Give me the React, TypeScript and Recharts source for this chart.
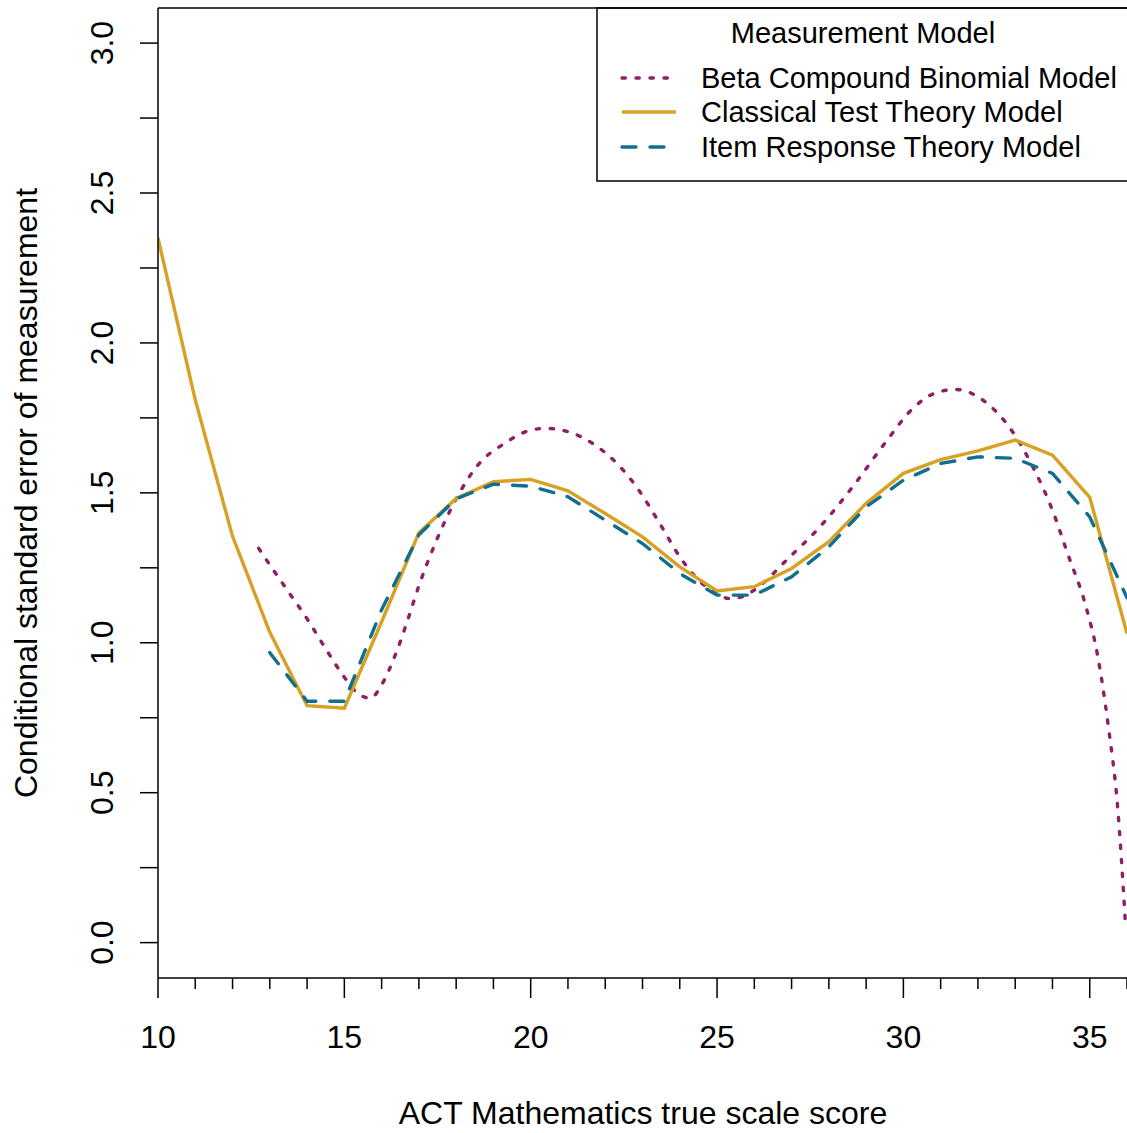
import React from "react";
import { LineChart, Line, XAxis, YAxis } from "recharts";

// ACT Mathematics true scale score (x) vs conditional SEM (y)
const scoreTicks = [10, 11, 12, 13, 14, 15, 16, 17, 18, 19, 20, 21, 22, 23, 24, 25, 26, 27, 28, 29, 30, 31, 32, 33, 34, 35, 36];
const semTicks = [0, 0.25, 0.5, 0.75, 1, 1.25, 1.5, 1.75, 2, 2.25, 2.5, 2.75, 3];

// Classical Test Theory Model
const cttScores = [10, 11, 12, 13, 14, 15, 16, 17, 18, 19, 20, 21, 22, 23, 24, 25, 26, 27, 28, 29, 30, 31, 32, 33, 34, 35, 36];
const cttValues = [2.35, 1.81, 1.355, 1.035, 0.79, 0.782, 1.07, 1.367, 1.481, 1.537, 1.545, 1.507, 1.431, 1.353, 1.253, 1.173, 1.187, 1.248, 1.337, 1.465, 1.565, 1.611, 1.64, 1.676, 1.626, 1.485, 1.031];

// Item Response Theory Model
const irtScores = [13, 14, 15, 16, 17, 18, 19, 20, 21, 22, 23, 24, 25, 26, 27, 28, 29, 30, 31, 32, 33, 34, 35, 36];
const irtValues = [0.967, 0.805, 0.805, 1.11, 1.36, 1.48, 1.529, 1.522, 1.487, 1.409, 1.331, 1.231, 1.159, 1.159, 1.22, 1.32, 1.453, 1.542, 1.598, 1.62, 1.615, 1.565, 1.42, 1.15];

// Beta Compound Binomial Model (smooth curve)
const bcbScores = [12.7, 13, 13.5, 14, 14.5, 15, 15.3, 15.7, 16, 16.4, 16.7, 17, 17.4, 18, 18.6, 19.3, 20, 20.4, 21.1, 21.8, 22.4, 22.9, 23.5, 24, 24.5, 25, 25.3, 25.6, 26, 26.9, 27.8, 28.7, 29.5, 30.3, 30.8, 31.4, 32.2, 32.9, 33.5, 34, 34.4, 34.9, 35.2, 35.5, 35.75, 35.95];
const bcbValues = [1.315, 1.26, 1.17, 1.08, 0.98, 0.885, 0.838, 0.815, 0.86, 0.97, 1.076, 1.19, 1.32, 1.48, 1.595, 1.665, 1.709, 1.715, 1.7, 1.653, 1.587, 1.509, 1.39, 1.287, 1.209, 1.165, 1.148, 1.151, 1.176, 1.28, 1.392, 1.53, 1.665, 1.787, 1.83, 1.845, 1.803, 1.709, 1.58, 1.442, 1.3, 1.12, 0.965, 0.72, 0.45, 0.08];

const seriesNames = ["Beta Compound Binomial Model", "Classical Test Theory Model", "Item Response Theory Model"];

const PURPLE = "#8e1f66";
const GOLD = "#d8a024";
const TEAL = "#0e6f8f";
const FONT = '"Liberation Sans", Arial, Helvetica, sans-serif';

const toPoints = (xs: number[], ys: number[]) => xs.map((x, i) => ({ score: x, sem: ys[i] }));

const cttData = toPoints(cttScores, cttValues);
const irtData = toPoints(irtScores, irtValues);
const bcbData = toPoints(bcbScores, bcbValues);

function XTick(props: any) {
  const { x, y, payload } = props;
  const major = payload.value % 5 === 0;
  return (
    <g>
      <line x1={x} x2={x} y1={y} y2={y + (major ? 20 : 11)} stroke="#000" strokeWidth={1.5} />
      {major && (
        <text x={x} y={y + 70} textAnchor="middle" fontSize={32} fontFamily={FONT} fill="#000">
          {payload.value}
        </text>
      )}
    </g>
  );
}

function YTick(props: any) {
  const { x, y, payload } = props;
  const v = payload.value;
  const labeled = Math.abs(v * 2 - Math.round(v * 2)) < 1e-6;
  return (
    <g>
      <line x1={x - 18} x2={x} y1={y} y2={y} stroke="#000" strokeWidth={1.5} />
      {labeled && (
        <text
          transform={`translate(${x - 45}, ${y}) rotate(-90)`}
          textAnchor="middle"
          fontSize={32}
          fontFamily={FONT}
          fill="#000"
        >
          {v.toFixed(1)}
        </text>
      )}
    </g>
  );
}

function Overlay() {
  const rows = [
    { name: seriesNames[0], color: PURPLE, dash: "3.3 10.7", y: 78 },
    { name: seriesNames[1], color: GOLD, dash: undefined, y: 112 },
    { name: seriesNames[2], color: TEAL, dash: "14 14", y: 147 },
  ];
  return (
    <svg width={1127} height={1133} style={{ position: "absolute", left: 0, top: 0, pointerEvents: "none" }}>
      {/* top of plot box */}
      <line x1={158} x2={1127} y1={8} y2={8} stroke="#000" strokeWidth={1.5} />
      {/* legend box, right side runs off the page */}
      <polyline points="1130,8 597,8 597,181 1130,181" fill="none" stroke="#000" strokeWidth={1.5} />
      <text x={863} y={43} textAnchor="middle" fontSize={29} fontFamily={FONT} fill="#000">
        Measurement Model
      </text>
      {rows.map((r) => (
        <g key={r.name}>
          <line
            x1={622}
            x2={676}
            y1={r.y}
            y2={r.y}
            stroke={r.color}
            strokeWidth={3.4}
            strokeDasharray={r.dash}
            strokeLinecap={r.dash ? "round" : "butt"}
          />
          <text x={701} y={r.y + 10} fontSize={29} fontFamily={FONT} fill="#000">
            {r.name}
          </text>
        </g>
      ))}
      <text x={643} y={1124} textAnchor="middle" fontSize={32} fontFamily={FONT} fill="#000">
        ACT Mathematics true scale score
      </text>
      <text
        transform="translate(37, 493) rotate(-90)"
        textAnchor="middle"
        fontSize={32}
        fontFamily={FONT}
        fill="#000"
      >
        Conditional standard error of measurement
      </text>
    </svg>
  );
}

export default function App() {
  return (
    <div style={{ position: "absolute", left: 0, top: 0, width: 1127, height: 1133, background: "#fff", overflow: "hidden" }}>
      <LineChart width={1127} height={1133} margin={{ top: 8, right: 0, bottom: 0, left: 0 }}>
        <XAxis
          dataKey="score"
          type="number"
          domain={[10, 36]}
          ticks={scoreTicks}
          allowDataOverflow
          height={155}
          tickSize={0}
          tickMargin={0}
          tickLine={false}
          axisLine={{ stroke: "#000", strokeWidth: 1.5 }}
          tick={<XTick />}
          interval={0}
        />
        <YAxis
          type="number"
          domain={[-0.118, 3.117]}
          ticks={semTicks}
          allowDataOverflow
          width={158}
          tickSize={0}
          tickMargin={0}
          tickLine={false}
          axisLine={{ stroke: "#000", strokeWidth: 1.5 }}
          tick={<YTick />}
          interval={0}
        />
        <Line
          data={bcbData}
          dataKey="sem"
          name={seriesNames[0]}
          type="monotone"
          stroke={PURPLE}
          strokeWidth={3.4}
          strokeDasharray="3.3 10.7"
          strokeLinecap="round"
          dot={false}
          activeDot={false}
          isAnimationActive={false}
        />
        <Line
          data={cttData}
          dataKey="sem"
          name={seriesNames[1]}
          type="linear"
          stroke={GOLD}
          strokeWidth={3.4}
          dot={false}
          activeDot={false}
          isAnimationActive={false}
        />
        <Line
          data={irtData}
          dataKey="sem"
          name={seriesNames[2]}
          type="linear"
          stroke={TEAL}
          strokeWidth={3.4}
          strokeDasharray="14 14"
          strokeLinecap="round"
          dot={false}
          activeDot={false}
          isAnimationActive={false}
        />
      </LineChart>
      <Overlay />
    </div>
  );
}
